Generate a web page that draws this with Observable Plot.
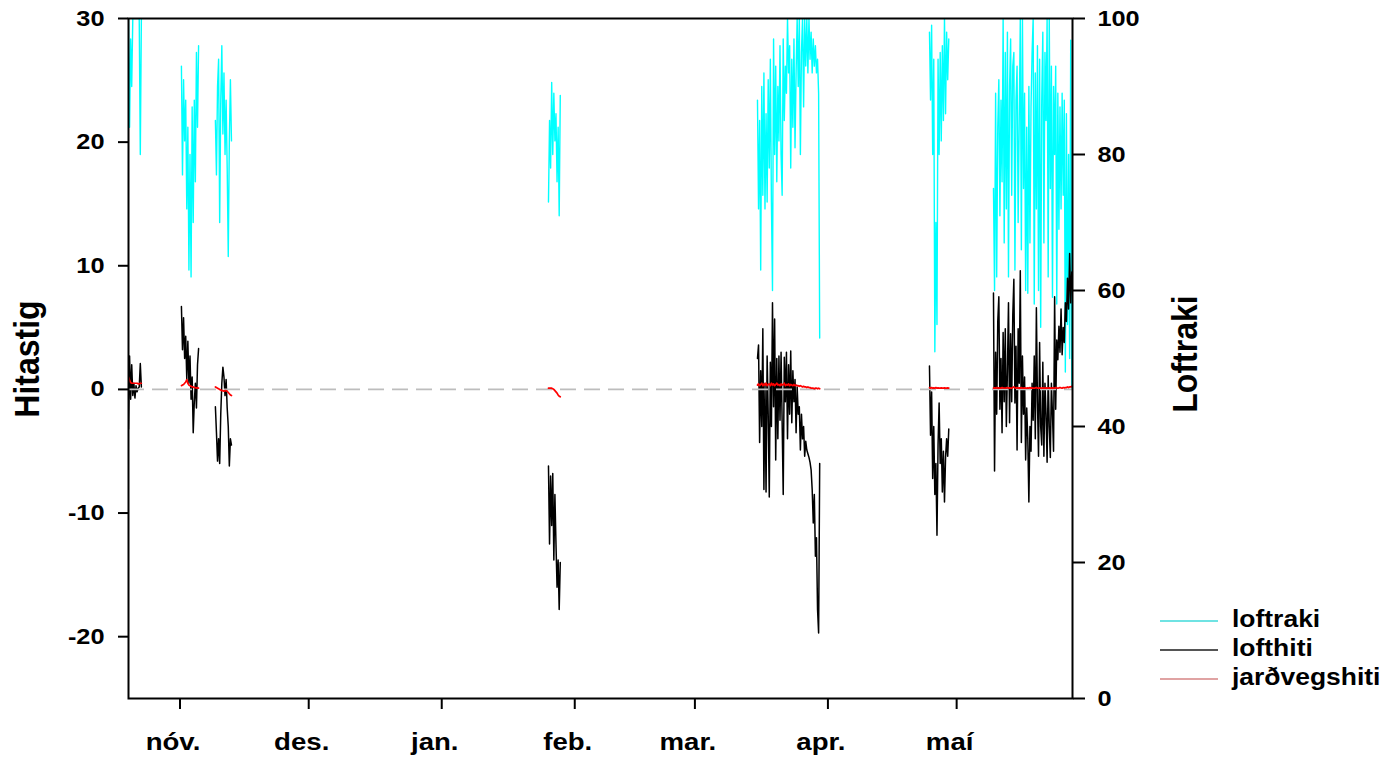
<!DOCTYPE html>
<html>
<head>
<meta charset="utf-8">
<script src="https://cdn.jsdelivr.net/npm/d3@7"></script>
<script src="https://cdn.jsdelivr.net/npm/@observablehq/plot@0.6"></script>
<style>
  html, body { margin: 0; padding: 0; background: #fff; }
  #wrap { position: relative; width: 1389px; height: 758px; font-family: "Liberation Sans", Arial, sans-serif; font-weight: bold; color: #000; }
  .ttl { position: absolute; white-space: nowrap; font-size: 32px; transform: translate(-50%, -50%) rotate(-90deg) scaleY(1.1); }
  .leg { position: absolute; left: 1160px; width: 1px; height: 1px; }
  .leg .ln { position: absolute; left: 0; width: 58px; height: 2px; }
  .leg .tx { position: absolute; left: 72px; top: -15px; font-size: 23px; white-space: nowrap; line-height: 28px; transform: scaleX(1.15); transform-origin: 0 50%; }
</style>
</head>
<body>
<div id="wrap"></div>
<script>
// ---------------- DATA ----------------
const stepHours = 6;
const segStarts = [
  "2016-10-20T00:00Z", "2016-11-01T08:00Z", "2016-11-09T06:00Z", "2017-01-25T21:00Z",
  "2017-03-15T14:00Z", "2017-04-24T16:00Z", "2017-05-09T14:00Z"
];

// loftraki (%), right axis
const loftrakiA = [100, 84, 97, 90, 100, 100, 100, 100, 100, 100, 100, 80, 100];
const loftrakiB = [93, 77, 91, 82, 88, 72, 84, 63, 80, 62, 87, 70, 88, 76, 95, 84, 96];
const loftrakiC = [85, 77, 90, 94, 70, 88, 96, 83, 92, 80, 88, 78, 65, 82, 91, 82];
const loftrakiD = [73, 85, 78, 90.6, 80, 89, 82, 86, 76, 84, 71, 88.7];
const loftrakiE = [88, 72, 85, 63, 90, 74, 92, 72, 86, 73, 91, 78, 94, 73, 60, 97, 80, 93, 76, 90,
  82, 96, 80, 74, 97, 85, 93, 89, 100, 92, 96, 78, 94, 84, 97, 81, 92, 100, 90, 100,
  80, 95, 100, 87, 100, 93, 100, 92, 100, 94, 98, 92, 97, 93, 96, 92, 94, 89, 53];
const loftrakiF = [98, 88, 99, 80, 94, 51, 70, 55, 94, 80, 95, 82, 96, 85, 100, 86, 98, 91, 97];
const loftrakiG = [75, 60, 89, 62, 84, 91, 71, 88, 76, 100, 67, 95, 72, 98, 62, 90, 97, 74, 93, 95,
  63, 88, 93, 70, 85, 100, 66, 100, 75, 89, 60, 84, 59.6, 90, 67, 87, 95, 100, 58, 92,
  72, 96, 60, 94, 54.6, 88, 98, 67, 95, 85, 100, 62, 100, 75, 93, 59, 90, 80, 93, 58,
  89, 69, 87, 72, 89, 74, 88, 48, 86, 55, 80, 50, 96.8, 45.7];

// lofthiti (°C), left axis
const lofthitiA = [-3.2, 2.7, -0.8, 2.0, -0.5, 0.5, -0.7, 0.3, -0.2, 0.1, 0.2, 2.1, 0.2];
const lofthitiB = [6.7, 3.2, 5.8, 2.5, 4.3, 0.8, 3.9, 0.5, 2.7, -0.8, 1.0, -3.5, -1.0, 0.5, -1.5, 2.0, 3.3];
const lofthitiC = [-1.4, -3.5, -5.8, -4.0, -6.0, -2.0, 0.5, 1.8, 1.0, -0.5, 0.8, -1.5, -3.0, -6.2, -4.0, -4.5];
const lofthitiD = [-6.2, -12.5, -7.0, -11.0, -6.8, -13.8, -8.5, -12.5, -16.0, -13.8, -17.8, -14.0];
const lofthitiE = [2.5, 3.6, -4.3, 1.5, -3.0, 4.9, -8.1, 0.5, -8.3, 2.7, -2.0, -8.7, 2.2, -3.0, 7.0, -1.4, 5.7, -5.7, 2.5, -4.0,
  2.7, -2.5, 3.0, -2.7, -8.5, 2.6, -1.0, 3.0, -4.0, 2.0, -2.0, 3.1, -2.7, 1.5, -1.0, 0.8, -3.5, 0.2, -2.0, -1.4,
  -4.9, -2.0, -4.0, -3.0, -5.4, -4.2, -4.9, -5.2, -5.5, -5.9, -6.5, -8.1, -10.8, -8.5, -13.5, -12.0, -17.8, -19.7, -6.0];
const lofthitiF = [1.9, -3.7, -0.2, -7.2, -3.0, -8.5, -6.0, -11.8, -4.5, -1.1, -6.0, -4.0, -8.3, -5.0, -9.1, -5.5, -4.0, -5.4, -3.2];
const lofthitiG = [7.8, -6.6, 3.0, -2.0, 5.5, 7.5, -1.6, 2.5, -3.5, 4.6, -1.0, 4.9, -3.0, 1.5, 7.0, -2.7, 4.5, -1.0, 6.0, 8.9,
  -1.1, 3.5, -4.9, 4.9, 0.5, 9.6, -4.3, 2.7, -2.0, 1.0, -5.7, -1.5, -4.0, -9.1, -3.0, -5.0, 0.5, -2.5, 2.7, -4.0,
  6.6, -1.0, -5.4, 3.8, -3.0, -4.5, 2.2, -5.4, 0.5, -2.0, -5.9, 1.1, -3.0, -5.5, 0.5, -2.0, -5.0, 7.5, -1.6, 4.0,
  2.4, 5.1, 3.0, 6.5, 2.8, 5.0, 3.8, 7.0, 5.5, 9.0, 6.5, 11.0, 7.0, 9.5];

// jarðvegshiti (°C), left axis
const jardA = [1.0, 0.75, 0.55, 0.5, 0.5, 0.5, 0.5, 0.5, 0.5, 0.45, 0.45, 0.5, 0.5];
const jardB = [0.3, 0.35, 0.4, 0.5, 0.6, 0.8, 0.5, 0.35, 0.3, 0.25, 0.2, 0.2, 0.15, 0.15, 0.1, 0.15, 0.1];
const jardC = [0.2, 0.15, 0.1, 0.05, 0, -0.05, -0.1, -0.1, -0.15, -0.1, -0.1, -0.15, -0.25, -0.35, -0.45, -0.5];
const jardD = [0.1, 0.1, 0.1, 0.1, 0.05, 0.0, -0.1, -0.2, -0.3, -0.45, -0.55, -0.6];
const jardE = [0.35, 0.45, 0.3, 0.4, 0.5, 0.3, 0.45, 0.35, 0.5, 0.3, 0.4, 0.45, 0.3, 0.5, 0.35, 0.45, 0.3, 0.4, 0.5, 0.35,
  0.4, 0.3, 0.45, 0.35, 0.4, 0.5, 0.3, 0.4, 0.35, 0.45, 0.3, 0.4, 0.35, 0.3, 0.4, 0.3, 0.35, 0.3, 0.3, 0.25,
  0.3, 0.25, 0.2, 0.25, 0.2, 0.2, 0.15, 0.2, 0.15, 0.15, 0.1, 0.1, 0.1, 0.05, 0.1, 0.1, 0.05, 0.1, 0.05];
const jardF = [0.15, 0.1, 0.15, 0.1, 0.12, 0.1, 0.15, 0.1, 0.12, 0.1, 0.1, 0.12, 0.1, 0.1, 0.12, 0.1, 0.1, 0.12, 0.1];
const jardG = [0.1, 0.12, 0.1, 0.15, 0.1, 0.12, 0.1, 0.1, 0.15, 0.12, 0.1, 0.1, 0.12, 0.15, 0.1, 0.12, 0.1, 0.1, 0.15, 0.2,
  0.12, 0.1, 0.15, 0.1, 0.12, 0.1, 0.15, 0.1, 0.1, 0.12, 0.1, 0.1, 0.12, 0.1, 0.15, 0.1, 0.12, 0.1, 0.1, 0.12,
  0.15, 0.1, 0.1, 0.12, 0.1, 0.1, 0.12, 0.1, 0.1, 0.12, 0.1, 0.1, 0.12, 0.1, 0.1, 0.12, 0.1, 0.1, 0.15, 0.12,
  0.1, 0.12, 0.15, 0.12, 0.1, 0.15, 0.12, 0.15, 0.15, 0.2, 0.15, 0.2, 0.2, 0.25];

const leftTicks = [-20, -10, 0, 10, 20, 30];
const rightTicks = [0, 20, 40, 60, 80, 100];
const monthDates = ["2016-11-01", "2016-12-01", "2017-01-01", "2017-02-01", "2017-03-01", "2017-04-01", "2017-05-01"];
const monthLabels = ["nóv.", "des.", "jan.", "feb.", "mar.", "apr.", "maí"];
const xDomain = ["2016-10-20T00:00Z", "2017-05-28T00:00Z"];
const yDomain = [-25, 30];
const seriesNames = ["loftraki", "lofthiti", "jarðvegshiti"];

// ---------------- BUILD ----------------
const loftraki = [loftrakiA, loftrakiB, loftrakiC, loftrakiD, loftrakiE, loftrakiF, loftrakiG];
const lofthiti = [lofthitiA, lofthitiB, lofthitiC, lofthitiD, lofthitiE, lofthitiF, lofthitiG];
const jard = [jardA, jardB, jardC, jardD, jardE, jardF, jardG];

// map right-axis (0..100) onto the left-axis (-25..30)
const toLeft = v => yDomain[0] + v * (yDomain[1] - yDomain[0]) / 100;
const toRight = t => (t - yDomain[0]) * 100 / (yDomain[1] - yDomain[0]);

function rows(segs, conv) {
  const out = [];
  segs.forEach((arr, s) => {
    const t0 = +new Date(segStarts[s]);
    arr.forEach((v, i) => out.push({date: new Date(t0 + i * stepHours * 3600e3), y: conv(v), seg: s}));
  });
  return out;
}
const cyanRows = rows(loftraki, toLeft);
const blackRows = rows(lofthiti, v => v);
const redRows = rows(jard, v => v);

const monthMap = new Map(monthDates.map((d, i) => [+new Date(d), monthLabels[i]]));
const monthTicks = monthDates.map(d => new Date(d));

const chart = Plot.plot({
  width: 1389,
  height: 758,
  marginTop: 18,
  marginBottom: 60,
  marginLeft: 128,
  marginRight: 317,
  style: {fontFamily: '"Liberation Sans", Arial, sans-serif', fontWeight: "bold", fontSize: "22px", color: "#000", background: "#fff", overflow: "visible"},
  x: {type: "utc", domain: xDomain.map(d => new Date(d))},
  y: {domain: yDomain},
  marks: [
    Plot.line(cyanRows, {x: "date", y: "y", z: "seg", stroke: "#00ffff", strokeWidth: 1.4, clip: true}),
    Plot.line(blackRows, {x: "date", y: "y", z: "seg", stroke: "#000", strokeWidth: 1.5, clip: true}),
    Plot.ruleY([0], {stroke: "#bdbdbd", strokeWidth: 1.6, strokeDasharray: "16,8"}),
    Plot.line(redRows, {x: "date", y: "y", z: "seg", stroke: "#ff0000", strokeWidth: 1.7, clip: true}),
    Plot.frame({stroke: "#000", strokeWidth: 2}),
    Plot.axisY({ticks: leftTicks, tickSize: 10, tickPadding: 14, strokeWidth: 2, tickFormat: d => String(d), fontSize: 22, fontWeight: "bold", label: null}),
    Plot.axisY({anchor: "right", ticks: rightTicks.map(toLeft), tickSize: 12, tickPadding: 13, strokeWidth: 2, tickFormat: d => String(Math.round(toRight(d))), fontSize: 22, fontWeight: "bold", label: null}),
    Plot.axisX({ticks: monthTicks, tickSize: 11, strokeWidth: 2, tickFormat: () => "", label: null}),
    Plot.axisX({ticks: monthTicks, tickSize: 0, tickPadding: 34, dx: -7, tickFormat: d => monthMap.get(+d), fontSize: 24, fontWeight: "bold", label: null})
  ]
});

// widen tick label glyphs horizontally (the reference type is slightly stretched)
d3.select(chart).selectAll("text").each(function() {
  const t = this.getAttribute("transform") || "";
  this.setAttribute("transform", (t + " scale(1.15,1)").trim());
});

const wrap = document.getElementById("wrap");
wrap.appendChild(chart);

// axis titles
function addTitle(text, x, y) {
  const d = document.createElement("div");
  d.className = "ttl";
  d.style.left = x + "px";
  d.style.top = y + "px";
  d.textContent = text;
  wrap.appendChild(d);
}
addTitle("Hitastig", 27, 359);
addTitle("Loftraki", 1185, 354);

// legend
const legColors = ["#6fe3e3", "#555555", "#e0a3a3"];
const legTops = [620, 649, 678];
seriesNames.forEach((name, i) => {
  const g = document.createElement("div");
  g.className = "leg";
  g.style.top = legTops[i] + "px";
  const ln = document.createElement("div");
  ln.className = "ln";
  ln.style.background = legColors[i];
  const tx = document.createElement("div");
  tx.className = "tx";
  tx.textContent = name;
  g.appendChild(ln);
  g.appendChild(tx);
  wrap.appendChild(g);
});
</script>
</body>
</html>
